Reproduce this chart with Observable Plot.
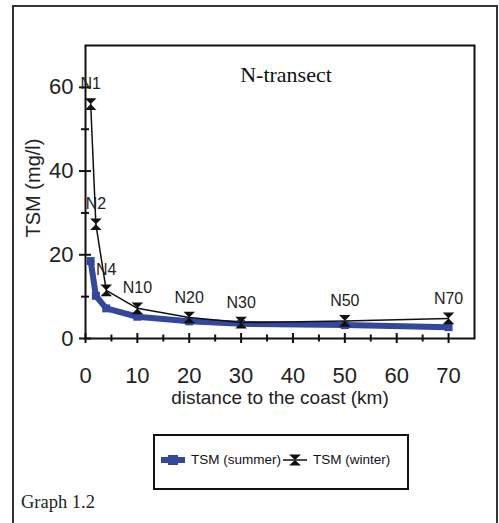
<!DOCTYPE html>
<html>
<head>
<meta charset="utf-8">
<script src="https://cdn.jsdelivr.net/npm/d3@7"></script>
<script src="https://cdn.jsdelivr.net/npm/@observablehq/plot@0.6"></script>
<style>
  html, body { margin: 0; padding: 0; background: #fff; }
  #wrap { position: relative; width: 499px; height: 523px; overflow: hidden; background: #fff; }
  #wrap svg.plot { position: absolute; left: 0; top: 0; }
  .frame { position: absolute; left: 12px; top: 5px; width: 486px; height: 600px; border: 2px solid #333; box-sizing: border-box; }
  .title { position: absolute; left: 186px; width: 200px; top: 62px; text-align: center; font-family: "Liberation Serif", "Times New Roman", serif; font-size: 22px; color: #111; white-space: nowrap; }
  .caption { position: absolute; left: 21px; top: 492px; font-family: "Liberation Serif", "Times New Roman", serif; font-size: 18.5px; color: #222; white-space: nowrap; }
  .legend { position: absolute; left: 153px; top: 434px; width: 256px; height: 56px; border: 2px solid #111; box-sizing: border-box; font-family: "Liberation Sans", Arial, sans-serif; font-size: 13.5px; color: #111; }
  .legend .item { position: absolute; top: 16px; display: flex; align-items: center; white-space: nowrap; }
  .legend svg { margin-right: 5px; }
</style>
</head>
<body>
<div id="wrap">
  <div class="frame"></div>
</div>
<script>
// ---- data ----
const distance = [1, 2, 4, 10, 20, 30, 50, 70];
const stations = ["N1", "N2", "N4", "N10", "N20", "N30", "N50", "N70"];
const tsmSummer = [18.5, 10.2, 7.2, 5.2, 4.1, 3.5, 3.2, 2.7];
const tsmWinter = [56, 27.3, 11.5, 7.2, 5.0, 3.8, 4.2, 4.8];
const xMajor = [0, 10, 20, 30, 40, 50, 60, 70];
const xMinor = [5, 15, 25, 35, 45, 55, 65];
const yMajor = [0, 20, 40, 60];
const yMinor = [10, 30, 50];
const seriesNames = ["TSM (summer)", "TSM (winter)"];
const titleText = "N-transect";
const xLabel = "distance to the coast (km)";
const yLabel = "TSM (mg/l)";
const captionText = "Graph 1.2";

const blue = "#33489c";
const summer = distance.map((d, i) => ({d, v: tsmSummer[i]}));
const winter = distance.map((d, i) => ({d, v: tsmWinter[i], s: stations[i]}));

// hourglass marker (two triangles tip to tip)
const hourglass = {
  draw(ctx, size) {
    const r = Math.sqrt(size / Math.PI);
    ctx.moveTo(-r, -r);
    ctx.lineTo(r, -r);
    ctx.lineTo(-r, r);
    ctx.lineTo(r, r);
    ctx.closePath();
  }
};

const chart = Plot.plot({
  width: 499,
  height: 523,
  marginLeft: 85,
  marginRight: 25,
  marginTop: 45,
  marginBottom: 185,
  style: {fontFamily: "'Liberation Sans', Arial, sans-serif", fontSize: "22px", background: "transparent", overflow: "visible", color: "#222"},
  x: {domain: [0, 75], axis: null},
  y: {domain: [0, 70], axis: null},
  marks: [
    // major/minor ticks crossing the axes
    Plot.ruleX(xMajor, {x: d => d, y1: 0, y2: 0, insetTop: -5, insetBottom: -5, stroke: "#111", strokeWidth: 2}),
    Plot.ruleX(xMinor, {x: d => d, y1: 0, y2: 0, insetTop: -3.5, insetBottom: -3.5, stroke: "#111", strokeWidth: 2}),
    Plot.ruleY(yMajor, {y: d => d, x1: 0, x2: 0, insetLeft: -6, insetRight: -6, stroke: "#111", strokeWidth: 2}),
    Plot.ruleY(yMinor, {y: d => d, x1: 0, x2: 0, insetLeft: -4, insetRight: -4, stroke: "#111", strokeWidth: 2}),
    Plot.frame({stroke: "#111", strokeWidth: 2}),
    Plot.axisX(xMajor, {tickSize: 0, tickPadding: 29, label: null, fontSize: 22, fill: "#222"}),
    Plot.axisY(yMajor, {tickSize: 0, tickPadding: 12, label: null, fontSize: 22, fill: "#222"}),
    Plot.text([xLabel], {frameAnchor: "bottom", dy: 65, text: d => d, fontSize: 19, fill: "#222"}),
    Plot.text([yLabel], {frameAnchor: "left", textAnchor: "middle", dx: -52, dy: -4, rotate: -90, text: d => d, fontSize: 20, fill: "#222"}),
    // series
    Plot.line(summer, {x: "d", y: "v", stroke: blue, strokeWidth: 6, strokeLinejoin: "round"}),
    Plot.dot(summer, {x: "d", y: "v", symbol: "square", r: 4.5, fill: blue}),
    Plot.line(winter, {x: "d", y: "v", stroke: "#111", strokeWidth: 1.5}),
    Plot.dot(winter, {x: "d", y: "v", symbol: hourglass, r: 5.8, fill: "#111"}),
    Plot.text(winter, {x: "d", y: "v", text: "s", dy: -20, fontSize: 16, fill: "#222"})
  ]
});
chart.classList.add("plot");
const wrap = document.getElementById("wrap");
wrap.appendChild(chart);

const t = document.createElement("div");
t.className = "title"; t.textContent = titleText; wrap.appendChild(t);

const c = document.createElement("div");
c.className = "caption"; c.textContent = captionText; wrap.appendChild(c);

const lg = document.createElement("div");
lg.className = "legend";
lg.innerHTML =
  `<div class="item" style="left:5px"><svg width="26" height="14"><line x1="1" y1="7" x2="25" y2="7" stroke="${blue}" stroke-width="6"/><rect x="8" y="2" width="10" height="10" fill="${blue}"/></svg><span>${seriesNames[0]}</span></div>` +
  `<div class="item" style="left:127px"><svg width="26" height="14"><line x1="1" y1="7" x2="25" y2="7" stroke="#111" stroke-width="1.5"/><path d="M7,1.5 L19,1.5 L7,12.5 L19,12.5 Z" fill="#111"/></svg><span>${seriesNames[1]}</span></div>`;
wrap.appendChild(lg);
</script>
</body>
</html>
